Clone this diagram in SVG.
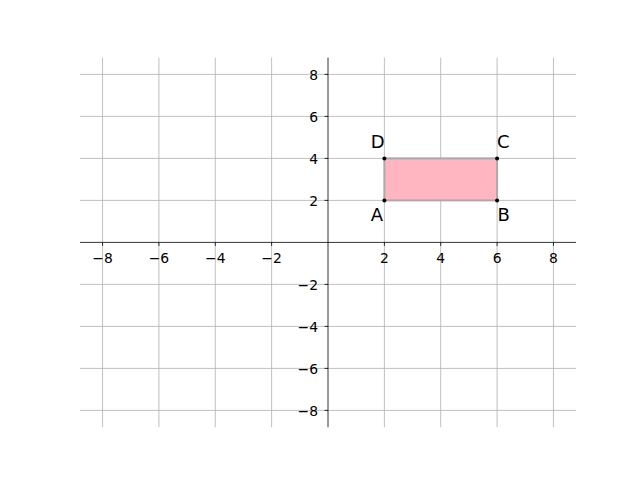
<svg xmlns="http://www.w3.org/2000/svg" width="640" height="480" viewBox="0 0 640 480">
<style>
.grid{stroke:#b0b0b0;stroke-width:0.8;fill:none}
.spine{stroke:#000;stroke-width:0.8;fill:none}
.tick{stroke:#000;stroke-width:0.8}
.tl{font-family:"DejaVu Sans",sans-serif;font-size:13.9px;fill:#000}
.pl{font-family:"DejaVu Sans",sans-serif;font-size:18px;fill:#000}
</style>
<rect width="640" height="480" fill="#fff"/>
<g id="grid">
<path class="grid" d="M102.55 57.6V427.2M158.9 57.6V427.2M215.3 57.6V427.2M271.6 57.6V427.2M384.4 57.6V427.2M440.7 57.6V427.2M497.1 57.6V427.2M553.45 57.6V427.2"/>
<path class="grid" d="M80 74.4H576M80 116.4H576M80 158.4H576M80 200.4H576M80 284.4H576M80 326.4H576M80 368.4H576M80 410.4H576"/>
</g>
<g id="rectangle">
<rect x="384.4" y="158.4" width="112.7" height="42" fill="#ffb6c1" stroke="#aaaaaa" stroke-width="2"/>
</g>
<g id="axes">
<path class="spine" d="M328 57.6V427.2M80 242.4H576"/>
<path class="tick" d="M102.55 242.4v3.5M158.9 242.4v3.5M215.3 242.4v3.5M271.6 242.4v3.5M384.4 242.4v3.5M440.7 242.4v3.5M497.1 242.4v3.5M553.45 242.4v3.5"/>
<path class="tick" d="M328 74.4h-3.5M328 116.4h-3.5M328 158.4h-3.5M328 200.4h-3.5M328 284.4h-3.5M328 326.4h-3.5M328 368.4h-3.5M328 410.4h-3.5"/>
<g class="tl" text-anchor="middle">
<text x="102.55" y="263">−8</text>
<text x="158.9" y="263">−6</text>
<text x="215.3" y="263">−4</text>
<text x="271.6" y="263">−2</text>
<text x="384.4" y="263">2</text>
<text x="440.7" y="263">4</text>
<text x="497.1" y="263">6</text>
<text x="553.45" y="263">8</text>
</g>
<g class="tl" text-anchor="end">
<text x="318" y="79.5">8</text>
<text x="318" y="121.5">6</text>
<text x="318" y="163.5">4</text>
<text x="318" y="205.5">2</text>
<text x="318" y="289.5">−2</text>
<text x="318" y="331.5">−4</text>
<text x="318" y="373.5">−6</text>
<text x="318" y="415.5">−8</text>
</g>
</g>
<g id="points">
<circle cx="384.4" cy="200.4" r="2" fill="#000"/>
<circle cx="497.1" cy="200.4" r="2" fill="#000"/>
<circle cx="497.1" cy="158.4" r="2" fill="#000"/>
<circle cx="384.4" cy="158.4" r="2" fill="#000"/>
</g>
<g id="labels" class="pl">
<text x="383" y="220.7" text-anchor="end">A</text>
<text x="497.5" y="220.7">B</text>
<text x="497" y="148.3">C</text>
<text x="384.5" y="148.3" text-anchor="end">D</text>
</g>
</svg>
